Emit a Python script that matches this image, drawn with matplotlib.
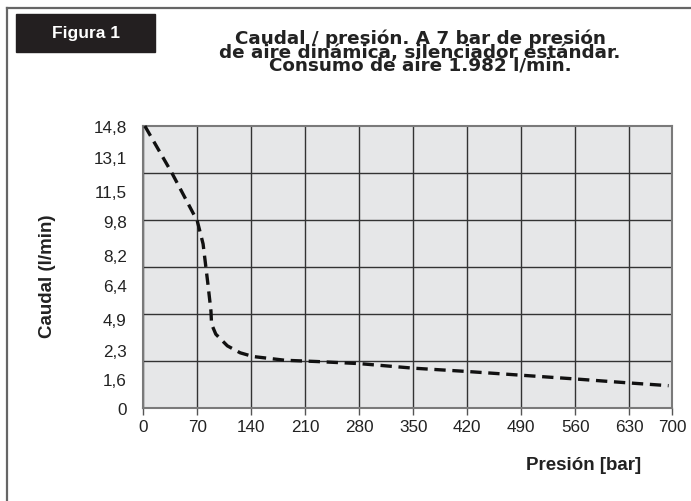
import matplotlib
matplotlib.use("Agg")
import matplotlib.pyplot as plt
import numpy as np
from matplotlib.lines import Line2D
from matplotlib.patches import Rectangle

plt.rcParams['font.family'] = ['Liberation Sans', 'DejaVu Sans']

# data
presion = [2, 37, 70, 77.5, 83.8, 87.7, 88.5, 94, 109, 125.6, 142.5, 184, 225,
           280, 350, 420, 490, 560, 630, 694]
caudal = [14.8, 12.35, 9.8, 8.72, 6.45, 5.25, 4.46, 3.62, 2.64, 2.23, 2.14, 2.05,
          2.02, 1.97, 1.86, 1.78, 1.69, 1.60, 1.38, 1.23]

x_ticks = [0, 70, 140, 210, 280, 350, 420, 490, 560, 630, 700]
y_ticks = [0, 1.6, 2.3, 4.9, 6.4, 8.2, 9.8, 11.5, 13.1, 14.8]
y_labels = ['0', '1,6', '2,3', '4,9', '6,4', '8,2', '9,8', '11,5', '13,1', '14,8']

title_lines = ['Caudal / presión. A 7 bar de presión',
               'de aire dinámica, silenciador estándar.',
               'Consumo de aire 1.982 l/min.']

# where the ticks sit on the (uneven) printed axes
x_pos = [0, 1, 2, 3, 4, 5, 6, 7, 8, 9, 9 + 43 / 53.9]
y_pos = [0, 0.103, 0.206, 0.316, 0.436, 0.543, 0.663, 0.769, 0.891, 1.0]

W, H = 691, 502
fig = plt.figure(figsize=(W / 100, H / 100), dpi=100)
ax = fig.add_axes([143.3 / W, (H - 409) / H, 529 / W, 282 / H])
ax.set_facecolor('#e6e7e8')

ax.set_xscale('function', functions=(lambda v: np.interp(v, x_ticks, x_pos),
                                     lambda p: np.interp(p, x_pos, x_ticks)))
ax.set_yscale('function', functions=(lambda v: np.interp(v, y_ticks, y_pos),
                                     lambda p: np.interp(p, y_pos, y_ticks)))
ax.set_xlim(0, 700)
ax.set_ylim(0, 14.8)

tick_font = dict(family=['Liberation Sans Narrow', 'Liberation Sans'], size=12.3,
                 color='#222222')
ax.set_xticks(x_ticks)
ax.set_xticklabels([str(v) for v in x_ticks], fontdict=tick_font)
ax.set_yticks(y_ticks)
ax.set_yticklabels(y_labels, fontdict=tick_font)
ax.minorticks_off()
ax.tick_params(axis='x', length=5, width=1, color='#555555', pad=3)
ax.tick_params(axis='y', length=0, pad=12)

ax.grid(axis='x', color='#333333', lw=1.0)
for k in range(1, 6):
    ax.plot([0, 1], [k / 6, k / 6], transform=ax.transAxes, color='#333333',
            lw=1.0, zorder=1)
ax.set_axisbelow(True)
for s in ax.spines.values():
    s.set_color('#7a7a7a')
    s.set_linewidth(1.5)

ax.plot(presion, caudal, color='#111111', lw=2.4, linestyle=(0, (3.4, 2.0)),
        dash_capstyle='butt', clip_on=False, zorder=3)

# axis labels
fig.text(48 / W, 1 - 276 / H, 'Caudal (l/min)', rotation=90, ha='center',
         va='center', fontsize=13.5, fontweight='bold', color='#222222')
fig.text(584 / W, 1 - 466 / H, 'Presión [bar]', ha='center', va='center',
         fontsize=13.5, fontweight='bold', color='#222222')

# title
fig.text(420 / W, 1 - 30 / H, '\n'.join(title_lines), ha='center', va='top',
         multialignment='center', linespacing=0.65, fontsize=13.2,
         fontweight='bold', family='DejaVu Sans', color='#222222')

# "Figura 1" tag
fig.patches.append(Rectangle((16 / W, 1 - 53 / H), 139 / W, 38 / H,
                             transform=fig.transFigure, color='#231f20'))
fig.text(85.5 / W, 1 - 34 / H, 'Figura 1', ha='center', va='center',
         fontsize=12.5, fontweight='bold', color='white')

# frame
fig.add_artist(Line2D([7 / W, 1], [1 - 9 / H, 1 - 9 / H], color='#666666', lw=1.6))
fig.add_artist(Line2D([7 / W, 7 / W], [0, 1 - 9 / H], color='#666666', lw=1.6))

fig.savefig('out.png', dpi=100)
